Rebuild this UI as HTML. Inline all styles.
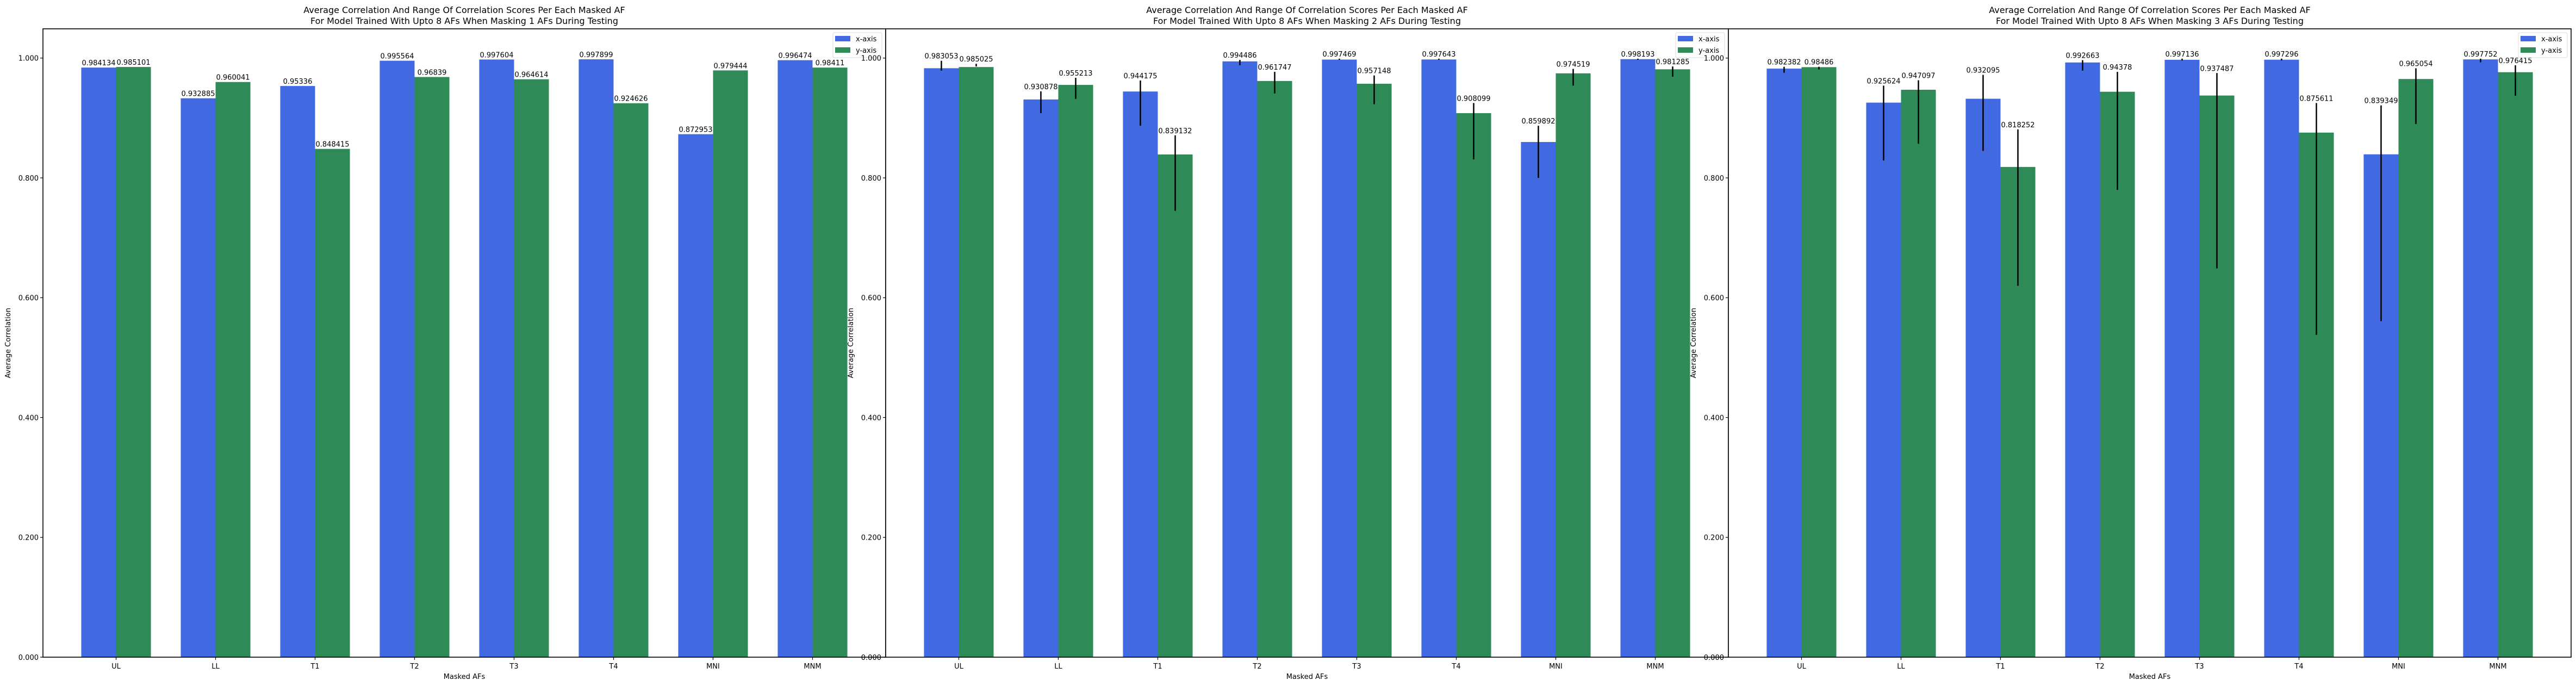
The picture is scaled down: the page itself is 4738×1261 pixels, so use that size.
<!DOCTYPE html>
<html><head><meta charset="utf-8"><style>
html,body{margin:0;padding:0;background:#fff;}
svg{display:block;font-family:"DejaVu Sans","Liberation Sans",sans-serif;}
</style></head><body>
<svg id="chart" width="4738" height="1261" viewBox="0 0 4738 1261" xmlns="http://www.w3.org/2000/svg"></svg>
<script>
const categories = ["UL","LL","T1","T2","T3","T4","MNI","MNM"];
const maskCounts = [1, 2, 3];
const xMeans1 = [0.984134,0.932885,0.95336,0.995564,0.997604,0.997899,0.872953,0.996474];
const yMeans1 = [0.985101,0.960041,0.848415,0.96839,0.964614,0.924626,0.979444,0.98411];
const xLabels1 = ["0.984134","0.932885","0.95336","0.995564","0.997604","0.997899","0.872953","0.996474"];
const yLabels1 = ["0.985101","0.960041","0.848415","0.96839","0.964614","0.924626","0.979444","0.98411"];
const xMeans2 = [0.983053,0.930878,0.944175,0.994486,0.997469,0.997643,0.859892,0.998193];
const yMeans2 = [0.985025,0.955213,0.839132,0.961747,0.957148,0.908099,0.974519,0.981285];
const xLabels2 = ["0.983053","0.930878","0.944175","0.994486","0.997469","0.997643","0.859892","0.998193"];
const yLabels2 = ["0.985025","0.955213","0.839132","0.961747","0.957148","0.908099","0.974519","0.981285"];
const xLow2 = [0.979,0.908,0.887,0.988,0.997,0.997,0.800,0.997];
const xHigh2 = [0.9955,0.9445,0.9625,0.997,0.999,0.999,0.887,0.999];
const yLow2 = [0.986,0.932,0.745,0.941,0.923,0.831,0.954,0.969];
const yHigh2 = [0.9905,0.967,0.871,0.977,0.971,0.925,0.982,0.986];
const xMeans3 = [0.982382,0.925624,0.932095,0.992663,0.997136,0.997296,0.839349,0.997752];
const yMeans3 = [0.98486,0.947097,0.818252,0.94378,0.937487,0.875611,0.965054,0.976415];
const xLabels3 = ["0.982382","0.925624","0.932095","0.992663","0.997136","0.997296","0.839349","0.997752"];
const yLabels3 = ["0.98486","0.947097","0.818252","0.94378","0.937487","0.875611","0.965054","0.976415"];
const xLow3 = [0.9755,0.829,0.845,0.979,0.996,0.996,0.561,0.993];
const xHigh3 = [0.9855,0.954,0.972,0.9965,0.999,0.999,0.921,0.999];
const yLow3 = [0.981,0.857,0.620,0.780,0.649,0.538,0.890,0.937];
const yHigh3 = [0.9855,0.963,0.881,0.977,0.975,0.925,0.983,0.988];
const yTicks = [0,0.2,0.4,0.6,0.8,1.0];
const yTickLabels = ["0.000","0.200","0.400","0.600","0.800","1.000"];

const NS="http://www.w3.org/2000/svg";
const svg=document.getElementById('chart');
function mk(tag,attrs,parent){const e=document.createElementNS(NS,tag);for(const k in attrs)e.setAttribute(k,attrs[k]);(parent||svg).appendChild(e);return e;}

const panels=[
 {xm:xMeans1,ym:yMeans1,xl:xLabels1,yl:yLabels1,xlo:null},
 {xm:xMeans2,ym:yMeans2,xl:xLabels2,yl:yLabels2,xlo:xLow2,xhi:xHigh2,ylo:yLow2,yhi:yHigh2},
 {xm:xMeans3,ym:yMeans3,xl:xLabels3,yl:yLabels3,xlo:xLow3,xhi:xHigh3,ylo:yLow3,yhi:yHigh3}
];
const AX_W=1550, TOP=53, BOT=1208, YMAX=1.0488, BW=0.35;
panels.forEach((p,pi)=>{
  const L=79+pi*AX_W, R=L+AX_W;
  const xmin=-0.735, xmax=7.735;
  const X=v=>L+(v-xmin)/(xmax-xmin)*AX_W;
  const Y=v=>BOT-v/YMAX*(BOT-TOP);
  const g=mk('g',{});
  
  
  mk('rect',{x:L,y:TOP,width:AX_W,height:BOT-TOP,fill:'#fff'},g);
  const series=[{m:p.xm,lab:p.xl,lo:p.xlo,hi:p.xhi,off:-BW/2,col:'#4169E1',nm:'x'},{m:p.ym,lab:p.yl,lo:p.ylo,hi:p.yhi,off:BW/2,col:'#2E8B57',nm:'y'}];
  series.forEach(s=>{
    s.m.forEach((v,i)=>{
      const r=mk('rect',{x:X(i+s.off-BW/2),y:Y(v),width:X(BW)-X(0),height:Y(0)-Y(v),fill:s.col},g);
      
      
    });
  });
  series.forEach(s=>{
    s.m.forEach((v,i)=>{
      const cx=X(i+s.off);
      let top=v;
      if(s.lo){
        const eb=mk('line',{x1:cx,x2:cx,y1:Y(s.lo[i]),y2:Y(s.hi[i]),stroke:'#000','stroke-width':2.5},g);
        
        
        top=Math.max(v,s.hi[i]);
      }
      const t=mk('text',{x:cx,y:Y(top)-4,'text-anchor':'middle','font-size':13,fill:'#000'},g);
      t.textContent=s.lab[i];
      
      
    });
  });
  mk('rect',{x:L,y:TOP,width:AX_W,height:BOT-TOP,fill:'none',stroke:'#000','stroke-width':1.6},g);
  yTicks.forEach((v,i)=>{
    mk('line',{x1:L-5,x2:L,y1:Y(v),y2:Y(v),stroke:'#000','stroke-width':1.2},g);
    const t=mk('text',{x:L-8,y:Y(v)+5,'text-anchor':'end','font-size':13,fill:'#000'},g);
    t.textContent=yTickLabels[i];
    
    
  });
  categories.forEach((c,i)=>{
    mk('line',{x1:X(i),x2:X(i),y1:BOT,y2:BOT+5,stroke:'#000','stroke-width':1.2},g);
    const t=mk('text',{x:X(i),y:BOT+21,'text-anchor':'middle','font-size':13,fill:'#000'},g);
    t.textContent=c;
    
    
  });
  const xt=mk('text',{x:L+AX_W/2,y:BOT+40,'text-anchor':'middle','font-size':13,fill:'#000'},g);
  xt.textContent='Masked AFs';
  
  
  const yt=mk('text',{x:0,y:0,'text-anchor':'middle','font-size':13,fill:'#000',transform:`translate(${L-60},${(TOP+BOT)/2}) rotate(-90)`},g);
  yt.textContent='Average Correlation';
  
  
  const t1=mk('text',{x:L+AX_W/2,y:24,'text-anchor':'middle','font-size':16,fill:'#000'},g);
  t1.textContent='Average Correlation And Range Of Correlation Scores Per Each Masked AF';
  
  
  const t2=mk('text',{x:L+AX_W/2,y:44,'text-anchor':'middle','font-size':16,fill:'#000'},g);
  t2.textContent='For Model Trained With Upto 8 AFs When Masking '+maskCounts[pi]+' AFs During Testing';
  
  
  const lg=mk('g',{},g);
  
  
  mk('rect',{x:R-97,y:60,width:90,height:46,rx:3,fill:'#fff','fill-opacity':0.8,stroke:'#ddd'},lg);
  [['x-axis','#4169E1'],['y-axis','#2E8B57']].forEach((e,k)=>{
    mk('rect',{x:R-93,y:66+k*21,width:28,height:10,fill:e[1]},lg);
    const lt=mk('text',{x:R-55,y:76+k*21,'font-size':13,fill:'#000'},lg);
    lt.textContent=e[0];
    
    
  });
});
</script>
</body></html>
